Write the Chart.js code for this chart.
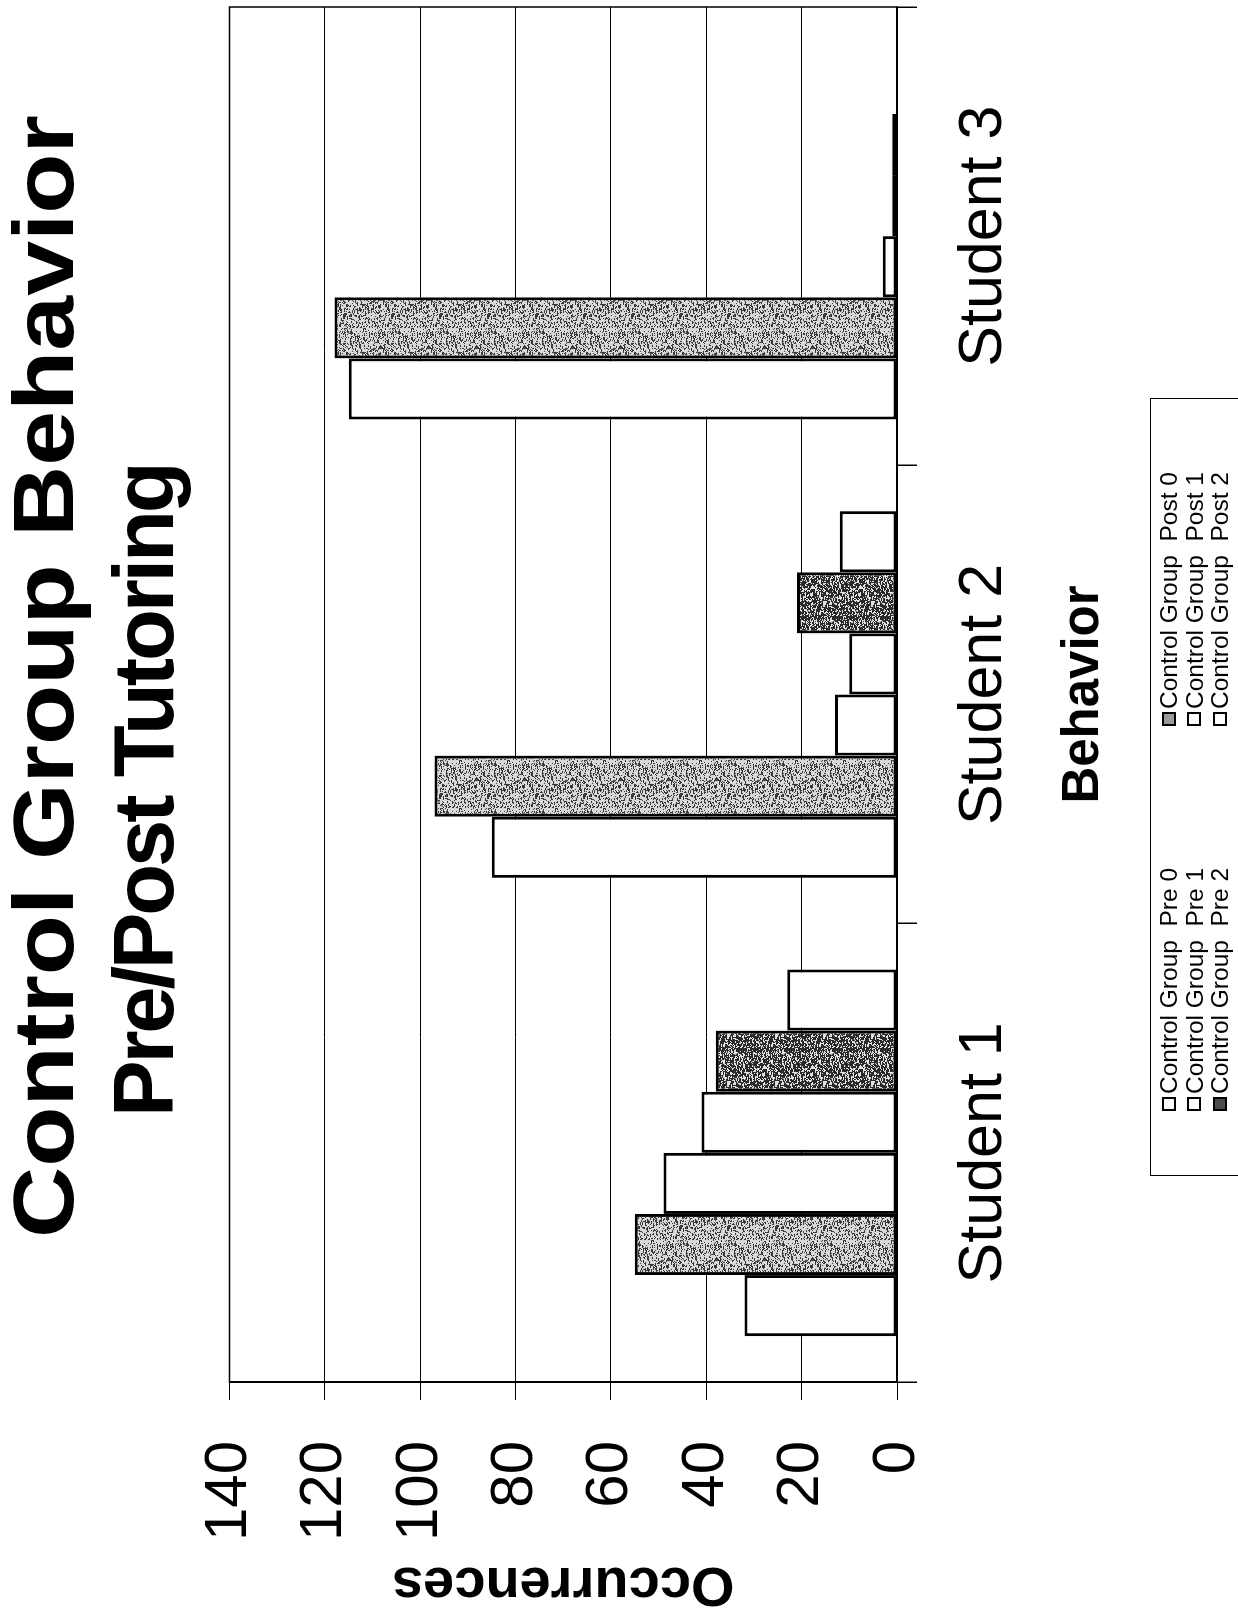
<!DOCTYPE html>
<html>
<head>
<meta charset="utf-8">
<script src="https://cdn.jsdelivr.net/npm/chart.js@4/dist/chart.umd.min.js"></script>
<style>
  html, body { margin: 0; padding: 0; background: #fff; }
  body { width: 1238px; height: 1608px; overflow: hidden; position: relative; }
  /* the scanned page is turned on its side, so the whole chart is drawn landscape and rotated */
  #page {
    position: absolute; left: 0; top: 1608px;
    width: 1608px; height: 1238px;
    transform-origin: 0 0; transform: rotate(-90deg);
    background: #fff;
  }
  .title {
    position: absolute; white-space: pre; color: #000;
    font-family: "Liberation Sans", Arial, sans-serif; font-weight: bold;
    font-size: 85px; line-height: 85px;
  }
  /* the first title line is printed wider than plain Arial Bold */
  #title1 { left: 370px; top: 1px; transform-origin: 0 0; transform: scaleX(1.16); }
  #title2 { left: 491px; top: 101px; letter-spacing: -3.2px; }
  #legend {
    position: absolute; left: 432px; top: 1150px; width: 778px; height: 140px;
    border: 1.5px solid #000; box-sizing: border-box;
    font-family: "Liberation Sans", Arial, sans-serif; font-size: 24.5px; color: #000;
  }
  .item { position: absolute; display: flex; align-items: center; white-space: pre; height: 25.5px; line-height: 25.5px; }
  .swatch { width: 14px; height: 14px; border: 2px solid #000; box-sizing: border-box; margin-right: 3px; background: #fff; }
</style>
</head>
<body>
<div id="page">
  <canvas id="chart" width="1608" height="1238"></canvas>
  <div class="title" id="title1">Control Group Behavior</div>
  <div class="title" id="title2">Pre/Post Tutoring</div>
  <div id="legend"></div>
</div>
<script>
const categories = ["Student 1", "Student 2", "Student 3"];
const seriesNames = ["Control Group  Pre 0", "Control Group  Post 0", "Control Group  Pre 1",
                     "Control Group  Post 1", "Control Group  Pre 2", "Control Group  Post 2"];
const pre0 = [32, 85, 115];
const post0 = [55, 97, 118];
const pre1 = [49, 13, 3];
const post1 = [41, 10, 1];
const pre2 = [38, 21, 1];
const post2 = [23, 12, 0];
const yTicks = [0, 20, 40, 60, 80, 100, 120, 140];

const fontFamily = '"Liberation Sans", Arial, sans-serif';

// speckled fill like the printed stipple, built from a fixed hash (no randomness)
function stipple(base, speck, share) {
    const c = document.createElement("canvas");
    c.width = 48;
    c.height = 48;
    const g = c.getContext("2d");
    g.fillStyle = base;
    g.fillRect(0, 0, 48, 48);
    g.fillStyle = speck;
    for (let i = 0; i < 48; i++) {
        for (let j = 0; j < 48; j++) {
            const h = ((i * 73856093) ^ (j * 19349663) ^ (i * j * 83492791)) >>> 0;
            if (h % 100 < share) g.fillRect(i, j, 1 + (h >> 8) % 2, 1);
        }
    }
    return g.createPattern(c, "repeat");
}

const ctx = document.getElementById("chart").getContext("2d");
const lightFill = stipple("#d8d8d8", "#3a3a3a", 36);
const darkFill = stipple("#2a2a2a", "#e0e0e0", 38);

const seriesValues = [pre0, post0, pre1, post1, pre2, post2];
const seriesFills = ["#fff", lightFill, "#fff", "#fff", darkFill, "#fff"];
const legendCss = ["#fff", "#9a9a9a", "#fff", "#fff", "#4a4a4a", "#fff"];

const frame = {
    id: "frame",
    afterDraw(chart) {
        const a = chart.chartArea;
        const c = chart.ctx;
        c.save();
        c.strokeStyle = "#000";
        c.lineWidth = 1.5;
        c.strokeRect(a.left, a.top, a.right - a.left, a.bottom - a.top);
        c.restore();
    }
};

new Chart(ctx, {
    type: "bar",
    data: {
        labels: categories,
        datasets: seriesValues.map((vals, i) => ({
            label: seriesNames[i],
            data: vals,
            backgroundColor: seriesFills[i],
            borderColor: "#000",
            borderWidth: 3,
            borderSkipped: false,
            categoryPercentage: 0.8,
            barPercentage: 1.0
        }))
    },
    options: {
        responsive: false,
        devicePixelRatio: 1,
        animation: false,
        // top space holds the two title lines (placed as text above the canvas)
        layout: { padding: { top: 229.5, right: 7, bottom: 123, left: 0 } },
        plugins: {
            legend: { display: false },
            tooltip: { enabled: false },
            title: { display: false }
        },
        scales: {
            x: {
                offset: true,
                grid: { offset: true, drawOnChartArea: false, drawTicks: true, tickLength: 20, color: "#000", lineWidth: 1.5 },
                border: { display: true, color: "#000", width: 2 },
                ticks: { color: "#000", padding: 31, maxRotation: 0, font: { family: fontFamily, size: 61 } },
                title: { display: true, text: "Behavior", color: "#000", padding: 0,
                         font: { family: fontFamily, size: 51, weight: "bold", lineHeight: 1.2 } },
                afterFit(scale) { scale.height = 218; }
            },
            y: {
                min: 0,
                max: 140,
                afterBuildTicks(scale) { scale.ticks = yTicks.map(v => ({ value: v })); },
                grid: { color: "#000", lineWidth: 1, tickLength: 18 },
                border: { display: true, color: "#000", width: 2 },
                ticks: { color: "#000", padding: 41, font: { family: fontFamily, size: 60 } },
                title: { display: true, text: "Occurrences", color: "#000", padding: 0,
                         font: { family: fontFamily, size: 56, weight: "bold", lineHeight: 0.86 } },
                afterFit(scale) { scale.width = 226; }
            }
        }
    },
    plugins: [frame]
});

// legend: two columns (Pre / Post), three rows, in the series order
const legend = document.getElementById("legend");
seriesNames.forEach((name, i) => {
    const row = Math.floor(i / 2);
    const col = i % 2;
    const item = document.createElement("div");
    item.className = "item";
    item.style.left = (col === 0 ? 64 : 449) + "px";
    item.style.top = (5 + row * 25.5) + "px";
    const sw = document.createElement("span");
    sw.className = "swatch";
    sw.style.background = legendCss[i];
    const txt = document.createElement("span");
    txt.textContent = name;
    item.appendChild(sw);
    item.appendChild(txt);
    legend.appendChild(item);
});
</script>
</body>
</html>
